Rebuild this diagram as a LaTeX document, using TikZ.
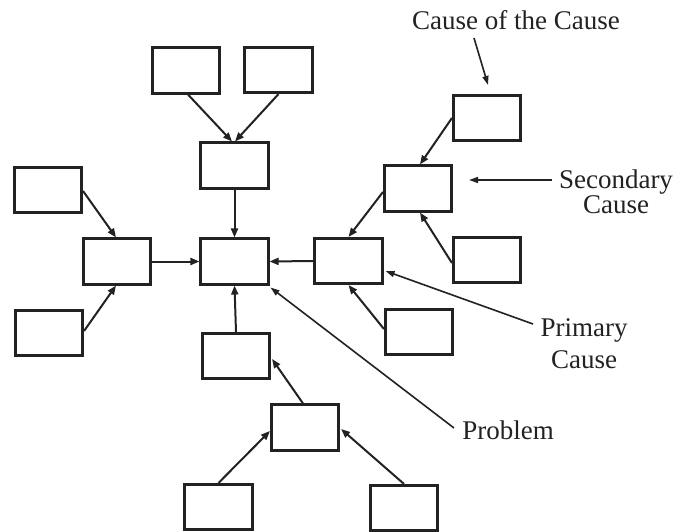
\documentclass[tikz,border=0pt]{standalone}
\usepackage{fontspec}
\setmainfont{Liberation Serif}
\usetikzlibrary{arrows.meta,calc}
\definecolor{ink}{HTML}{222222}
\begin{document}
\begin{tikzpicture}[x=1pt,y=-1pt,
  box/.style={draw=ink,line width=2.6pt,minimum width=67.5pt,minimum height=45.5pt,inner sep=0pt},
  link/.style={draw=ink,line width=2pt,-{Triangle[length=9pt,width=7pt]}},
  pointer/.style={draw=ink,line width=1.6pt,-{Triangle[length=9pt,width=6pt]}},
  lbl/.style={text=ink,inner sep=0pt,align=center}]
\useasboundingbox[fill=white] (0,0) rectangle (682,532);

% cause boxes
\node[box] (tl)   at (186,70.5)  {};
\node[box] (tr)   at (278.5,70)  {};
\node[box] (ct)   at (234.5,165.5) {};
\node[box] (cen)  at (234.5,261.5) {};
\node[box] (lm)   at (117,261.5) {};
\node[box] (flt)  at (48,190)    {};
\node[box] (flb)  at (49,333)    {};
\node[box] (pri)  at (348.5,261) {};
\node[box] (sec)  at (418,188.5) {};
\node[box] (coc)  at (487,118)   {};
\node[box] (rl)   at (487,260)   {};
\node[box] (bp)   at (419,332)   {};
\node[box] (bc)   at (236,356)   {};
\node[box] (lmid) at (305,427.5) {};
\node[box] (bl)   at (218.5,507) {};
\node[box] (br)   at (404,508)   {};

% arrows between causes
\draw[link] ($(tl.south)+(2,0)$) -- ($(ct.north)+(-2.5,0)$);
\draw[link] (tr.south) -- ($(ct.north)+(0.5,0)$);
\draw[link] (ct.south) -- (cen.north);
\draw[link] ($(flt.east)+(0,1)$) -- ($(lm.north)+(-1,0)$);
\draw[link] (lm.east) -- (cen.west);
\draw[link] (pri.west) -- (cen.east);
\draw[link] ($(flb.east)+(0,-2)$) -- ($(lm.south)+(-1,0)$);
\draw[link] (bc.north) -- (cen.south);
\draw[link] (coc.west) -- ($(sec.north)+(2,0)$);
\draw[link] ($(rl.west)+(0,3)$) -- ($(sec.south)+(2,0)$);
\draw[link] ($(sec.west)+(0,3.5)$) -- (pri.north);
\draw[link] ($(bp.west)+(0,-3)$) -- (pri.south);
\draw[link] ($(lmid.north)+(-2,0)$) -- ($(bc.east)+(1,3)$);
\draw[link] (bl.north) -- ($(lmid.west)+(0,3.5)$);
\draw[link] (br.north) -- ($(lmid.east)+(1,1.5)$);

% labels (base anchor sits on the last line of each label)
\node[lbl,anchor=base,font=\fontsize{27}{27}\selectfont] (coclab) at (516,30) {Cause of the Cause};
\node[lbl,anchor=base,font=\fontsize{27}{25}\selectfont] (seclab) at (616,213) {Secondary\\Cause};
\node[lbl,anchor=base,font=\fontsize{27}{32}\selectfont] (prilab) at (584,368) {Primary\\Cause};
\node[lbl,anchor=base,font=\fontsize{27}{27}\selectfont] (problab) at (508,439) {Problem};

\coordinate (cocfrom) at (474,38);
\coordinate (secfrom) at (552,180);
\coordinate (prifrom) at (533,324);
\coordinate (probfrom) at (454,428);
\draw[pointer] (cocfrom) -- ($(coc.north)+(1,-9)$);
\draw[pointer] (secfrom) -- ($(sec.east)+(16,-8.5)$);
\draw[pointer] (prifrom) -- ($(pri.east)+(2,10)$);
\draw[pointer] (probfrom) -- ($(cen.south east)+(1,2)$);
\end{tikzpicture}
\end{document}
